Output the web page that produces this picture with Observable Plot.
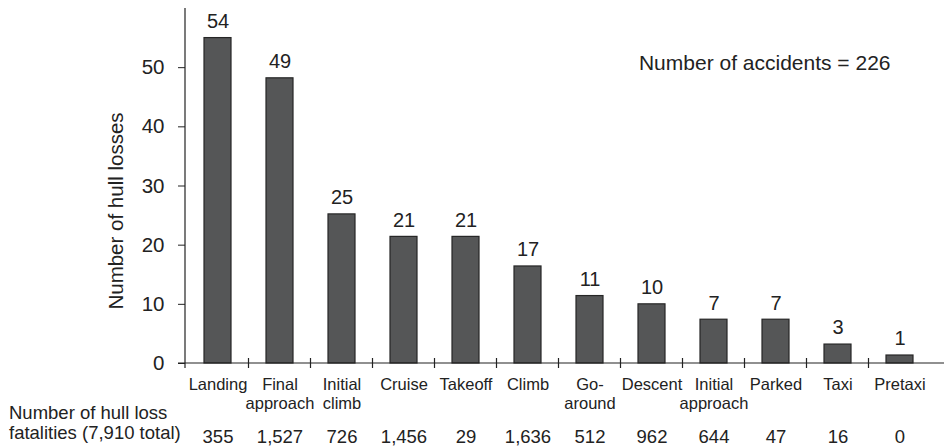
<!DOCTYPE html>
<html>
<head>
<meta charset="utf-8">
<script src="https://cdn.jsdelivr.net/npm/d3@7"></script>
<script src="https://cdn.jsdelivr.net/npm/@observablehq/plot@0.6"></script>
<style>
  html, body { margin: 0; padding: 0; background: #fff; }
  #chart svg { display: block; }
</style>
</head>
<body>
<div id="chart"></div>
<script>
// ---- data ----
const phases = ["Landing", "Final approach", "Initial climb", "Cruise", "Takeoff", "Climb",
                "Go-around", "Descent", "Initial approach", "Parked", "Taxi", "Pretaxi"];
const tickLabels = ["Landing", "Final\napproach", "Initial\nclimb", "Cruise", "Takeoff", "Climb",
                    "Go-\naround", "Descent", "Initial\napproach", "Parked", "Taxi", "Pretaxi"];
// printed values above the bars
const hullLossLabels = [54, 49, 25, 21, 21, 17, 11, 10, 7, 7, 3, 1];
// bar heights as drawn in the picture
const barHeights = [55, 48.2, 25.2, 21.4, 21.4, 16.4, 11.4, 10, 7.4, 7.4, 3.2, 1.35];
// fatalities per phase
const fatalities = [355, 1527, 726, 1456, 29, 1636, 512, 962, 644, 47, 16, 0];
const yTicks = [0, 10, 20, 30, 40, 50];
const yMax = 60;
const yTitle = "Number of hull losses";
const accidentsNote = "Number of accidents = 226";
const fatalityNote = "Number of hull loss\nfatalities (7,910 total)";

const data = phases.map((p, i) => ({phase: p, height: barHeights[i], label: hullLossLabels[i]}));
const fmt = d3.format(",");
const ink = "#222";
const padIn = 0.57;

function axisLines(index, scales, values, dimensions) {
  const {x, y} = scales;
  const {width, marginLeft} = dimensions;
  const g = d3.create("svg:g").attr("stroke", ink).attr("stroke-width", 1.2).attr("fill", "none");
  const y0 = y(0);
  g.append("line").attr("x1", marginLeft - 7).attr("x2", width).attr("y1", y0).attr("y2", y0);
  g.append("line").attr("x1", marginLeft).attr("x2", marginLeft).attr("y1", y(yMax)).attr("y2", y0 + 5);
  let bw = x.bandwidth;
  if (typeof bw === "function") bw = bw();
  if (!(bw > 0)) bw = (x(phases[1]) - x(phases[0])) * (1 - padIn);
  for (let i = 1; i < phases.length; i++) {
    const bx = (x(phases[i - 1]) + bw + x(phases[i])) / 2;
    g.append("line").attr("x1", bx).attr("x2", bx).attr("y1", y0 - 5).attr("y2", y0 + 5);
  }
  return g.node();
}

const chart = Plot.plot({
  width: 944,
  height: 446,
  marginLeft: 185,
  marginRight: 9,
  marginTop: 8,
  marginBottom: 83,
  style: {fontFamily: "'Liberation Sans', Arial, Helvetica, sans-serif", color: ink, background: "#fff"},
  x: {domain: phases, range: [182, 935], paddingInner: padIn, paddingOuter: padIn / 2, axis: null},
  y: {domain: [0, yMax], axis: null},
  marks: [
    Plot.barY(data, {x: "phase", y: "height", fill: "#555657", stroke: "#262626", strokeWidth: 1.2}),
    Plot.text(data, {x: "phase", y: "height", text: d => String(d.label), lineAnchor: "middle", dy: -16.5, fontSize: 20, fill: ink}),
    Plot.axisY({ticks: yTicks, tickSize: 7, tickPadding: 14, fontSize: 20.5, label: null, tickFormat: d => String(d)}),
    Plot.axisX({tickSize: 0, tickPadding: 14, fontSize: 16.5, lineHeight: 1.1, label: null,
                tickFormat: d => tickLabels[phases.indexOf(d)]}),
    Plot.axisX({tickSize: 0, tickPadding: 66, fontSize: 18.5, label: null,
                tickFormat: d => fmt(fatalities[phases.indexOf(d)])}),
    axisLines,
    Plot.text([yTitle], {frameAnchor: "left", rotate: -90, dx: -69, dy: 25, textAnchor: "middle", lineAnchor: "middle", fontSize: 20.5, fill: ink}),
    Plot.text([accidentsNote], {frameAnchor: "top-right", dx: -45, dy: 47, textAnchor: "end", lineAnchor: "top", fontSize: 21, fill: ink}),
    Plot.text([fatalityNote], {frameAnchor: "bottom-left", dx: -176.5, dy: 41, textAnchor: "start", lineAnchor: "top", fontSize: 18.5, lineHeight: 1.08, fill: ink})
  ]
});
document.getElementById("chart").appendChild(chart);
</script>
</body>
</html>
